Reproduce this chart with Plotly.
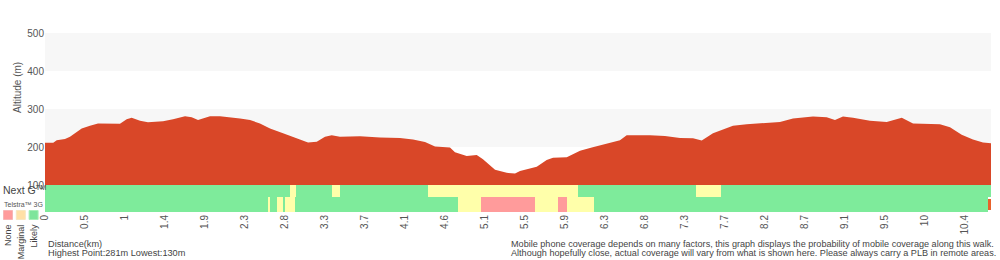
import plotly.graph_objects as go

# ---------------- data ----------------
distance_km = [0, 0.094, 0.133, 0.227, 0.284, 0.360, 0.417, 0.511, 0.602, 0.852, 0.928, 0.985,
               1.080, 1.170, 1.341, 1.455, 1.591, 1.667, 1.739, 1.875, 1.989, 2.216, 2.330,
               2.443, 2.557, 2.705, 2.860, 2.989, 3.088, 3.182, 3.258, 3.352, 3.580, 3.807,
               4.034, 4.182, 4.318, 4.432, 4.602, 4.659, 4.792, 4.906, 4.977, 5.114, 5.247,
               5.341, 5.398, 5.511, 5.588, 5.701, 5.773, 5.929, 6.080, 6.213, 6.383, 6.534,
               6.610, 6.875, 7.045, 7.216, 7.364, 7.463, 7.591, 7.690, 7.818, 7.974, 8.125,
               8.352, 8.500, 8.727, 8.883, 8.977, 9.068, 9.182, 9.375, 9.565, 9.736, 9.864,
               10.170, 10.284, 10.417, 10.545, 10.659, 10.75]
altitude_m = [211, 211, 218, 221, 227, 240, 249, 256, 262, 261, 273, 277,
              269, 265, 268, 273, 281, 278, 271, 281, 281, 275, 271,
              262, 249, 236, 224, 212, 214, 227, 231, 227, 228, 225,
              224, 220, 213, 201, 199, 186, 176, 179, 168, 140, 132,
              130, 137, 144, 148, 166, 172, 173, 190, 199, 210, 218,
              231, 231, 229, 224, 223, 217, 236, 245, 256, 260, 262,
              266, 275, 280, 278, 271, 280, 277, 269, 266, 277, 262,
              260, 252, 232, 220, 212, 210]

# coverage: segment boundaries (km) and status per segment
nextg_bounds = [0, 2.784, 2.849, 3.261, 3.352, 4.352, 6.060, 7.398, 7.682, 10.75]
nextg_status = ["Likely", "Marginal", "Likely", "Marginal", "Likely", "Marginal", "Likely", "Marginal", "Likely"]

g3_bounds = [0, 2.531, 2.557, 2.633, 2.701, 2.727, 2.841, 4.697, 4.955, 5.568, 5.826, 5.928, 6.239, 10.713]
g3_status = ["Likely", "Marginal", "Likely", "Marginal", "Likely", "Marginal", "Likely",
             "Marginal", "None", "Marginal", "None", "Marginal", "Likely"]

end_marker_km = [10.713, 10.75]

tick_labels = ["0", "0.5", "1", "1.4", "1.9", "2.3", "2.8", "3.3", "3.7", "4.1", "4.6", "5.1",
               "5.5", "5.9", "6.3", "6.8", "7.3", "7.7", "8.2", "8.7", "9.1", "9.5", "10", "10.4"]
tick_step_km = 0.4545
total_km = 10.75

y_ticks = [100, 200, 300, 400, 500]
legend_labels = ["None", "Marginal", "Likely"]

# ---------------- styles ----------------
status_colors = {"None": "#ff9b9b", "Marginal": "#ffffaa", "Likely": "#7eeb9b"}
legend_fill = {"None": "#ff9b9b", "Marginal": "#ffe0a6", "Likely": "#7ee59b"}
legend_line = {"None": "#f7b5b5", "Marginal": "#f7e6c0", "Likely": "#a8efb8"}
elev_color = "#d94728"
band_color = "#f7f7f7"
txt = "#555555"
FONT = "Liberation Sans, Arial, sans-serif"

W, H = 1000, 260
ML, MR, MT, MB = 45, 9, 33, 48
PW, PH = W - ML - MR, H - MT - MB
cov_px = 27  # coverage strip height


def px(x):
    return (x - ML) / PW


def py(y):
    return (H - MB - y) / PH


fig = go.Figure()

# elevation profile
fig.add_trace(go.Scatter(
    x=distance_km, y=altitude_m, mode="lines", fill="tozeroy",
    line=dict(color=elev_color, width=0), fillcolor=elev_color,
    hoverinfo="skip", xaxis="x", yaxis="y"))


def add_row(bounds, status, yc, width):
    starts = bounds[:-1]
    lengths = [b - a for a, b in zip(bounds[:-1], bounds[1:])]
    fig.add_trace(go.Bar(
        orientation="h", base=starts, x=lengths, y=[yc] * len(starts), width=width,
        marker=dict(color=[status_colors[s] for s in status], line=dict(width=0)),
        xaxis="x", yaxis="y2", hoverinfo="skip"))


add_row(nextg_bounds, nextg_status, 21, 12)
add_row(g3_bounds, g3_status, 7.5, 15)
fig.add_trace(go.Bar(
    orientation="h", base=[end_marker_km[0]], x=[end_marker_km[1] - end_marker_km[0]],
    y=[7.65], width=10.7, marker=dict(color="#e8622c", line=dict(width=0)),
    xaxis="x", yaxis="y2", hoverinfo="skip"))

shapes = []
for y0, y1 in [(400, 500), (200, 300)]:
    shapes.append(dict(type="rect", xref="paper", yref="y", x0=0, x1=1, y0=y0, y1=y1,
                       fillcolor=band_color, line=dict(width=0), layer="below"))

# legend squares
for i, k in enumerate(legend_labels):
    x0 = 3.5 + i * 12.8
    shapes.append(dict(type="rect", xref="paper", yref="paper",
                       x0=px(x0), x1=px(x0 + 9), y0=py(219.5), y1=py(210.5),
                       fillcolor=legend_fill[k], line=dict(color=legend_line[k], width=1)))

annotations = [
    dict(text="Altitude (m)", x=px(17), y=py(88), textangle=-90, font=dict(size=10, color=txt)),
    dict(text="Next G<sup>TM</sup>", x=px(1), y=py(189), xanchor="left", font=dict(size=10.5, color="#444")),
    dict(text="Telstra™ 3G", x=px(2), y=py(204), xanchor="left", font=dict(size=7, color=txt)),
    dict(text="Distance(km)", x=px(46), y=py(243.5), xanchor="left", font=dict(size=9.2, color="#444")),
    dict(text=f"Highest Point:{max(altitude_m)}m Lowest:{min(altitude_m)}m", x=px(46), y=py(252.5),
         xanchor="left", font=dict(size=9.2, color="#444")),
    dict(text="Mobile phone coverage depends on many factors, this graph displays the probability of mobile coverage along this walk.",
         x=px(509), y=py(243.5), xanchor="left", font=dict(size=9.1, color="#444")),
    dict(text="Although hopefully close, actual coverage will vary from what is shown here. Please always carry a PLB in remote areas.",
         x=px(509), y=py(252.5), xanchor="left", font=dict(size=9.1, color="#444")),
]
for i, k in enumerate(legend_labels):
    annotations.append(dict(text=k, x=px(8 + i * 12.8), y=py(222), yanchor="top", textangle=-90,
                            font=dict(size=9, color="#444")))
for a in annotations:
    a.update(xref="paper", yref="paper", showarrow=False)
    a.setdefault("yanchor", "middle")
    a.setdefault("xanchor", "center")

fig.update_layout(
    width=W, height=H, margin=dict(l=ML, r=MR, t=MT, b=MB),
    paper_bgcolor="white", plot_bgcolor="white", showlegend=False,
    barmode="overlay", bargap=0,
    font=dict(family=FONT, size=10, color=txt),
    xaxis=dict(range=[0, total_km], anchor="y2",
               tickvals=[i * tick_step_km for i in range(len(tick_labels))],
               ticktext=tick_labels, tickangle=-90, showgrid=False, zeroline=False,
               showline=False, ticks="", tickfont=dict(size=10, color=txt)),
    yaxis=dict(range=[100, 500], domain=[cov_px / PH, 1], tickvals=y_ticks,
               showgrid=False, zeroline=False, showline=False, ticks="",
               tickfont=dict(size=10, color=txt)),
    yaxis2=dict(range=[0, cov_px], domain=[0, cov_px / PH], visible=False, fixedrange=True),
    shapes=shapes, annotations=annotations,
)

fig.write_html("out.html")
